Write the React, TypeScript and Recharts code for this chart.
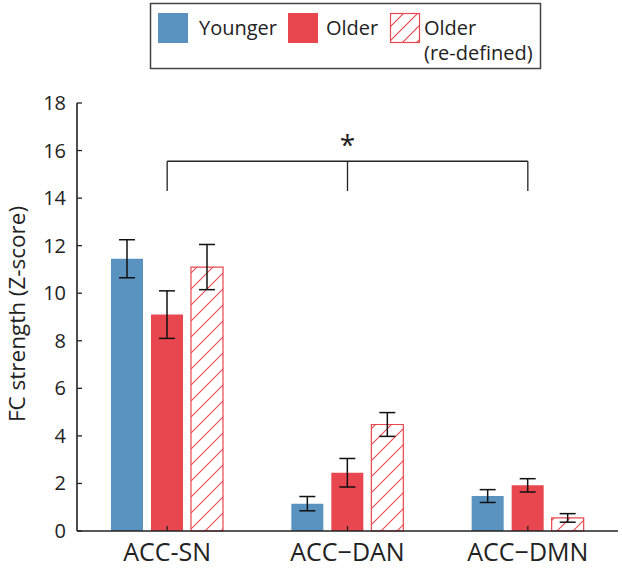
import { Bar, BarChart, ErrorBar, ReferenceDot, ReferenceLine, XAxis, YAxis } from 'recharts'

const categories = ['ACC-SN', 'ACC\u2212DAN', 'ACC\u2212DMN']
const younger = [11.45, 1.15, 1.47]
const youngerErr = [0.8, 0.3, 0.27]
const older = [9.1, 2.45, 1.92]
const olderErr = [1.0, 0.6, 0.28]
const olderRe = [11.1, 4.48, 0.55]
const olderReErr = [0.95, 0.5, 0.18]
const yTicks = [0, 2, 4, 6, 8, 10, 12, 14, 16, 18]

// significance bracket (data units)
const bracketTop = 15.55
const bracketFoot = 14.3
const starY = 16.25

const data = categories.map((name, i) => ({
  name,
  younger: younger[i],
  youngerErr: youngerErr[i],
  older: older[i],
  olderErr: olderErr[i],
  olderRe: olderRe[i],
  olderReErr: olderReErr[i],
}))

const FONT = '"Open Sans", "Noto Sans", sans-serif'
const BLUE = '#5a92c0'
const RED = '#e9474f'
const INK = '#222'

const YTick = (p: any) => (
  <g>
    <line x1={p.x} x2={p.x + 5} y1={p.y} y2={p.y} stroke={INK} strokeWidth={1.3} />
    <text x={p.x - 11} y={p.y} dy={7} textAnchor="end" fontSize={20} fontFamily={FONT} fill={INK}>
      {p.payload.value}
    </text>
  </g>
)

const XTick = (p: any) => (
  <g>
    <line x1={p.x} x2={p.x} y1={p.y} y2={p.y - 5} stroke={INK} strokeWidth={1.3} />
    <text x={p.x} y={p.y} dy={30} textAnchor="middle" fontSize={25} fontFamily={FONT} fill={INK}>
      {p.payload.value}
    </text>
  </g>
)

const Star = (p: any) => (
  <text x={p.cx} y={p.cy} dy={10} textAnchor="middle" fontSize={28} fontFamily={FONT} fill={INK}>
    *
  </text>
)

function Legend() {
  return (
    <svg width={622} height={75} style={{ position: 'absolute', left: 0, top: 0, pointerEvents: 'none' }}>
      <defs>
        <pattern id="hatchLegend" patternUnits="userSpaceOnUse" width={14} height={14} x={390} y={13}>
          <path d="M0,14 L14,0 M-3,3 L3,-3 M11,17 L17,11" stroke={RED} strokeWidth={1.2} />
        </pattern>
      </defs>
      <rect x={150.5} y={3.5} width={390} height={65} fill="#fff" stroke="#444" strokeWidth={1.5} />
      <rect x={158} y={13} width={30} height={30} fill={BLUE} />
      <text x={199} y={35} fontSize={20} fontFamily={FONT} fill={INK}>Younger</text>
      <rect x={288} y={13} width={30} height={30} fill={RED} />
      <text x={326} y={35} fontSize={20} fontFamily={FONT} fill={INK}>Older</text>
      <rect x={390.5} y={13.5} width={29} height={29} fill="url(#hatchLegend)" stroke={RED} strokeWidth={1.2} />
      <text x={424} y={35} fontSize={20} fontFamily={FONT} fill={INK}>Older</text>
      <text x={424} y={60} fontSize={20} fontFamily={FONT} fill={INK}>(re-defined)</text>
    </svg>
  )
}

export default function App() {
  return (
    <div style={{ position: 'absolute', left: 0, top: 0, width: 622, height: 570, background: '#fff' }}>
      <BarChart
        width={622}
        height={570}
        data={data}
        margin={{ top: 103, right: 4, bottom: 0, left: 0 }}
        barSize={32}
        barGap={8}
      >
        <defs>
          <pattern id="hatch" patternUnits="userSpaceOnUse" width={16} height={16}>
            <path d="M0,16 L16,0 M-4,4 L4,-4 M12,20 L20,12" stroke={RED} strokeWidth={1.1} />
          </pattern>
        </defs>
        <XAxis
          dataKey="name"
          height={39}
          axisLine={{ stroke: INK, strokeWidth: 1.6 }}
          tickLine={false}
          tickSize={0}
          tickMargin={0}
          tick={<XTick />}
          interval={0}
        />
        <YAxis
          width={77}
          domain={[0, 18]}
          ticks={yTicks}
          interval={0}
          axisLine={{ stroke: INK, strokeWidth: 1.6 }}
          tickLine={false}
          tickSize={0}
          tickMargin={0}
          tick={<YTick />}
          label={{
            content: () => (
              <text
                transform="translate(25,314) rotate(-90)"
                textAnchor="middle"
                fontSize={22.5}
                fontFamily={FONT}
                fill={INK}
              >
                FC strength (Z-score)
              </text>
            ),
          }}
        />
        <Bar dataKey="younger" fill={BLUE} isAnimationActive={false}>
          <ErrorBar dataKey="youngerErr" width={8} stroke="#111" strokeWidth={1.5} />
        </Bar>
        <Bar dataKey="older" fill={RED} isAnimationActive={false}>
          <ErrorBar dataKey="olderErr" width={8} stroke="#111" strokeWidth={1.5} />
        </Bar>
        <Bar dataKey="olderRe" fill="url(#hatch)" stroke={RED} strokeWidth={1.2} isAnimationActive={false}>
          <ErrorBar dataKey="olderReErr" width={8} stroke="#111" strokeWidth={1.5} />
        </Bar>
        <ReferenceLine
          segment={[
            { x: categories[0], y: bracketTop },
            { x: categories[2], y: bracketTop },
          ]}
          stroke={INK}
          strokeWidth={1.3}
        />
        {categories.map((c) => (
          <ReferenceLine
            key={c}
            segment={[
              { x: c, y: bracketTop },
              { x: c, y: bracketFoot },
            ]}
            stroke={INK}
            strokeWidth={1.3}
          />
        ))}
        <ReferenceDot x={categories[1]} y={starY} r={0} shape={<Star />} />
      </BarChart>
      <Legend />
    </div>
  )
}
